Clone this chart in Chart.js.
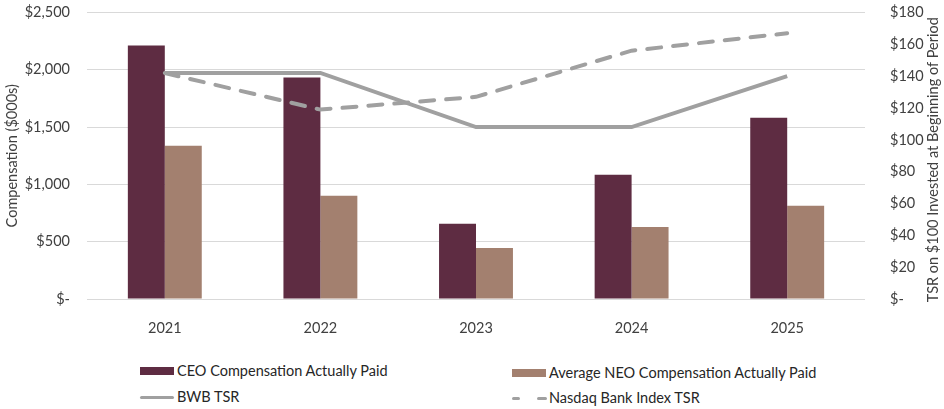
<!DOCTYPE html>
<html>
<head>
<meta charset="utf-8">
<script src="https://cdn.jsdelivr.net/npm/chart.js@4"></script>
<style>
  body { margin: 0; background: #fff; font-family: Lato, sans-serif; }
  #wrap { position: relative; width: 944px; height: 409px; }
  #c { position: absolute; left: 0; top: 0; }
  .lg { position: absolute; font-size: 14.5px; color: #262626; line-height: 16px; white-space: nowrap; }
  .lg span.sw { position: absolute; left: 0; }
</style>
</head>
<body>
<div id="wrap">
  <canvas id="c" width="944" height="340"></canvas>
  <div id="legend"></div>
</div>
<script>
// -------------------------
//      DATA
// -------------------------
const years = ["2021", "2022", "2023", "2024", "2025"];
const ceoPaid = [2212, 1932, 656, 1084, 1582];
const neoPaid = [1337, 900, 446, 629, 813];
const bwbTsr = [142, 142, 108, 108, 140];
const nasdaqTsr = [142, 119, 127, 156, 167];

const CEO_COLOR = "#5e2c42";
const NEO_COLOR = "#a3806f";
const LINE_COLOR = "#a0a0a0";
const TEXT_COLOR = "#404040";

function money(v) {
    if (v === 0) return "$-";
    return "$" + v.toLocaleString("en-US");
}

const tickFont = { family: "Lato", size: 14.5 };

// axis titles drawn by hand so both read bottom-to-top
const axisTitles = {
    id: "axisTitles",
    afterDraw(chart) {
        const c = chart.ctx;
        const a = chart.chartArea;
        const mid = (a.top + a.bottom) / 2;
        c.save();
        c.fillStyle = TEXT_COLOR;
        c.font = "14.5px Lato";
        c.textAlign = "center";
        c.textBaseline = "middle";
        [[12.5, "Compensation ($000s)", mid], [933, "TSR on $100 Invested at Beginning of Period", mid + 4]].forEach(([x, t, y]) => {
            c.save();
            c.translate(x, y);
            c.rotate(-Math.PI / 2);
            c.fillText(t, 0, 0);
            c.restore();
        });
        c.restore();
    }
};

// keep the chart area where the reference has it
function fixWidth(w) {
    return s => {
        s.width = w;
        s.paddingTop = 0;
        s.paddingBottom = 0;
    };
}

const chart = new Chart(document.getElementById("c"), {
    data: {
        labels: years,
        datasets: [
            { type: "line", label: "BWB TSR", data: bwbTsr, yAxisID: "y2",
              borderColor: LINE_COLOR, borderWidth: 4, pointRadius: 0, tension: 0, order: 0 },
            { type: "line", label: "Nasdaq Bank Index TSR", data: nasdaqTsr, yAxisID: "y2",
              borderColor: LINE_COLOR, borderWidth: 4, borderDash: [14, 12], borderCapStyle: "round",
              pointRadius: 0, tension: 0, order: 0 },
            { type: "bar", label: "CEO Compensation Actually Paid", data: ceoPaid, yAxisID: "y",
              backgroundColor: CEO_COLOR, categoryPercentage: 0.475, barPercentage: 1, order: 1 },
            { type: "bar", label: "Average NEO Compensation Actually Paid", data: neoPaid, yAxisID: "y",
              backgroundColor: NEO_COLOR, categoryPercentage: 0.475, barPercentage: 1, order: 1 }
        ]
    },
    options: {
        responsive: false,
        animation: false,
        layout: { padding: { top: 12.5, right: 0, left: 0, bottom: 0 } },
        plugins: { legend: { display: false }, tooltip: { enabled: false } },
        scales: {
            x: {
                grid: { display: false },
                border: { display: false },
                ticks: { font: tickFont, color: TEXT_COLOR, padding: 13 },
                afterFit: s => { s.height = 41; s.paddingLeft = 0; s.paddingRight = 0; }
            },
            y: {
                position: "left",
                min: 0, max: 2500,
                ticks: { stepSize: 500, font: tickFont, color: TEXT_COLOR, padding: 17, callback: money },
                grid: { color: "#d9d9d9", lineWidth: 1, drawTicks: false },
                border: { display: false },
                afterFit: fixWidth(87)
            },
            y2: {
                position: "right",
                min: 0, max: 180,
                ticks: { stepSize: 20, font: tickFont, color: TEXT_COLOR, padding: 17, callback: money },
                grid: { display: false },
                border: { display: false },
                afterFit: fixWidth(79)
            }
        }
    },
    plugins: [axisTitles]
});

// -------------------------
//      LEGEND (two columns)
// -------------------------
const legendItems = [
    { text: "CEO Compensation Actually Paid", x: 140, y: 363, kind: "box", color: CEO_COLOR },
    { text: "Average NEO Compensation Actually Paid", x: 512, y: 365, kind: "box", color: NEO_COLOR },
    { text: "BWB TSR", x: 140, y: 389, kind: "line", color: LINE_COLOR },
    { text: "Nasdaq Bank Index TSR", x: 512, y: 390, kind: "dash", color: LINE_COLOR }
];

const legend = document.getElementById("legend");
legendItems.forEach(item => {
    const d = document.createElement("div");
    d.className = "lg";
    d.style.left = item.x + "px";
    d.style.top = item.y + "px";
    d.style.paddingLeft = "37px";
    let sw = "";
    if (item.kind === "box") {
        sw = `<span class="sw" style="top:4px;width:34px;height:8px;background:${item.color}"></span>`;
    } else if (item.kind === "line") {
        sw = `<span class="sw" style="top:7px;width:34px;height:3px;border-radius:2px;background:${item.color}"></span>`;
    } else {
        sw = `<span class="sw" style="top:7px;width:8px;height:3px;border-radius:2px;background:${item.color}"></span>` +
             `<span class="sw" style="left:25px;top:7px;width:10px;height:3px;border-radius:2px;background:${item.color}"></span>`;
    }
    d.innerHTML = sw + item.text;
    legend.appendChild(d);
});
</script>
</body>
</html>
